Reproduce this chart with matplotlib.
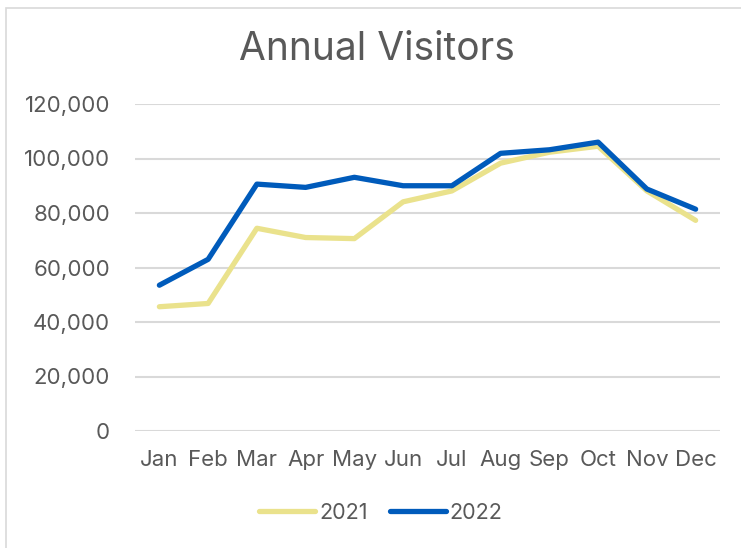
import matplotlib.pyplot as plt
import matplotlib as mpl
from matplotlib.ticker import FuncFormatter
from matplotlib.patches import Rectangle

mpl.rcParams["font.family"] = ["Inter", "DejaVu Sans"]

# data
months = ["Jan", "Feb", "Mar", "Apr", "May", "Jun",
          "Jul", "Aug", "Sep", "Oct", "Nov", "Dec"]
visitors_2021 = [45600, 46800, 74400, 71000, 70600, 84100,
                 88100, 98300, 102300, 104500, 88100, 77300]
visitors_2022 = [53500, 63000, 90600, 89400, 93100, 90000,
                 90000, 101900, 103200, 106000, 88800, 81400]
yticks = [0, 20000, 40000, 60000, 80000, 100000, 120000]

txt = "#595959"
W, H = 741, 548
fig = plt.figure(figsize=(W / 100, H / 100), dpi=100)
fig.patches.append(Rectangle((6 / W, -0.1), 1.2, (548 - 8) / H + 0.1,
                             transform=fig.transFigure, fill=False,
                             edgecolor="#D9D9D9", linewidth=1.2))

ax = fig.add_axes([135 / W, (H - 431) / H, 585 / W, 327 / H])
x = range(len(months))
ax.plot(x, visitors_2021, color="#EAE28C", linewidth=3.8,
        solid_capstyle="round", solid_joinstyle="round", label="2021")
ax.plot(x, visitors_2022, color="#005BBB", linewidth=3.8,
        solid_capstyle="round", solid_joinstyle="round", label="2022")

ax.set_xlim(-0.5, len(months) - 0.5)
ax.set_ylim(0, 120000)
ax.set_yticks(yticks)
ax.yaxis.set_major_formatter(FuncFormatter(lambda v, p: f"{int(v):,}"))
ax.set_xticks(list(x))
ax.set_xticklabels(months)
ax.tick_params(axis="both", length=0, labelsize=16, colors=txt)
ax.tick_params(axis="y", pad=18)
ax.tick_params(axis="x", pad=14)
for s in ax.spines.values():
    s.set_visible(False)
ax.grid(axis="y", color="#D9D9D9", linewidth=1.5)
ax.set_axisbelow(True)

fig.text(377 / W, 1 - 49 / H, "Annual Visitors", ha="center", va="center",
         fontsize=28, color=txt)

leg = fig.legend(loc="center", bbox_to_anchor=(381 / W, 1 - 513 / H),
                 ncol=2, frameon=False, fontsize=15.5, handlelength=2.6,
                 handletextpad=0.2, columnspacing=1.0, labelcolor=txt)

fig.savefig("out.png", dpi=100)
